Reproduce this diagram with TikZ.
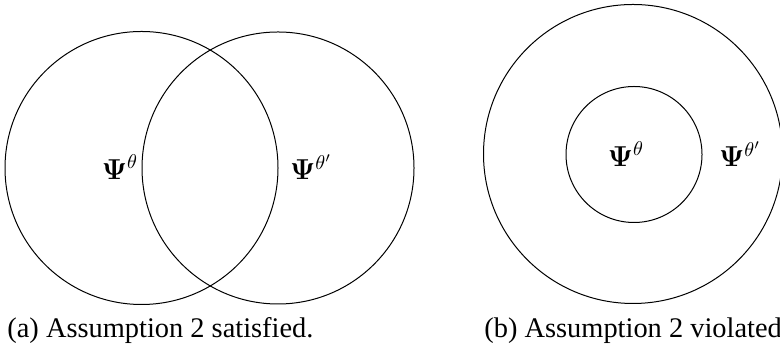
\documentclass[tikz,border=0pt]{standalone}
\usepackage[no-math]{fontspec}
\setmainfont{Liberation Serif}
\usepackage{tikz}
\usetikzlibrary{positioning}
\tikzset{
  vset/.style={draw,circle,inner sep=0pt,line width=0.5pt},
  vlab/.style={inner sep=0pt,font=\fontsize{14.2}{17}\selectfont},
  vcap/.style={inner sep=0pt,anchor=base west,font=\fontsize{14.2}{17}\selectfont},
}
\begin{document}
\begin{tikzpicture}[x=0.5pt,y=0.5pt]
\useasboundingbox (0,0) rectangle (780,351);
% (a) overlapping sets
\node[vset,minimum size=136.5pt] (sa) at (141.5,183) {};
\node[vset,minimum size=136pt] (sb) at (278,183) {};
\node[vlab] (la) at (120,184) {$\mathbf{\Psi}^{\theta}$};
\node[vlab] (lb) at (311,184) {$\mathbf{\Psi}^{\theta'}$};
\node[vcap] (ca) at (7,13) {(a) Assumption 2 satisfied.};
% (b) nested sets
\node[vset,minimum size=149.5pt] (so) at (633,197) {};
\node[vset,minimum size=68pt] (si) at (634,196.5) {};
\node[vlab] (li) at (626,197) {$\mathbf{\Psi}^{\theta}$};
\node[vlab] (lo) at (740,197) {$\mathbf{\Psi}^{\theta'}$};
\node[vcap] (cb) at (484,13) {(b) Assumption 2 violated};
\end{tikzpicture}
\end{document}
